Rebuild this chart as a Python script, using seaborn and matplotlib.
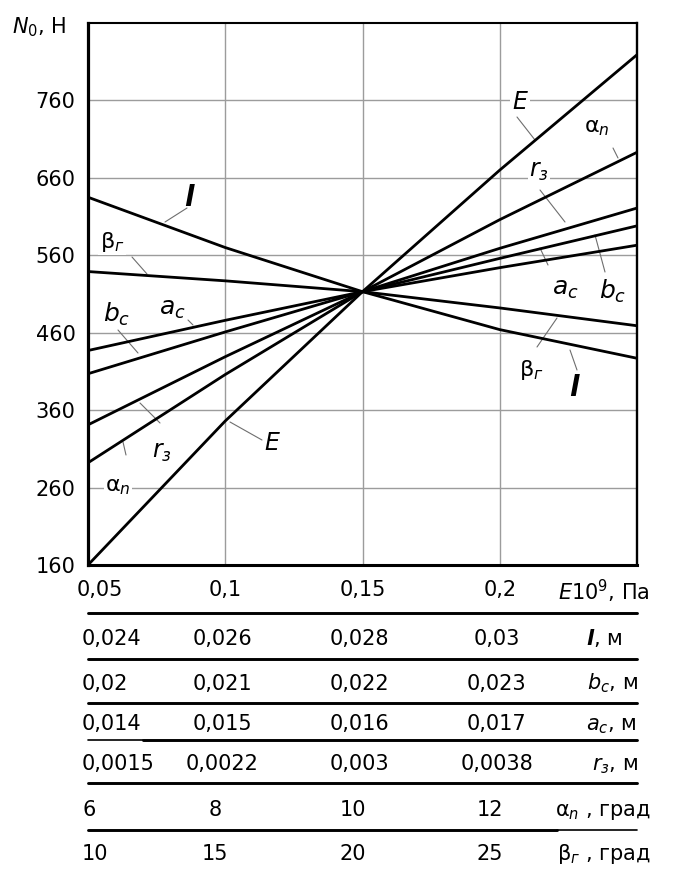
import numpy as np
import pandas as pd
import matplotlib
matplotlib.use("Agg")
import matplotlib.pyplot as plt
from matplotlib.transforms import ScaledTranslation
import seaborn as sns

# Elastic modulus grid, E*10^9 Pa
e_mod = [0.05, 0.10, 0.15, 0.20, 0.25]

# Force N0 (N) when one parameter runs over its range, the others fixed
n0_E = [160, 346, 513, 670, 819]
n0_alpha = [292, 406, 513, 606, 693]
n0_r3 = [341, 429, 513, 569, 621]
n0_bc = [407, 461, 513, 556, 598]
n0_ac = [437, 476, 513, 544, 573]
n0_beta = [539, 527, 513, 492, 469]
n0_l = [635, 570, 513, 464, 427]

y_ticks = [160, 260, 360, 460, 560, 660, 760]
e_tick_vals = [0.05, 0.10, 0.15, 0.20]
e_tick_labels = ["0,05", "0,1", "0,15", "0,2"]

# Parameter scales printed under the E axis
l_vals = ["0,024", "0,026", "0,028", "0,03"]
bc_vals = ["0,02", "0,021", "0,022", "0,023"]
ac_vals = ["0,014", "0,015", "0,016", "0,017"]
r3_vals = ["0,0015", "0,0022", "0,003", "0,0038"]
alpha_vals = ["6", "8", "10", "12"]
beta_vals = ["10", "15", "20", "25"]

sns.set_theme(style="white")
plt.rcParams["font.family"] = ["DejaVu Sans"]
plt.rcParams["mathtext.fontset"] = "dejavusans"
plt.rcParams["text.color"] = "black"

W, H = 678, 875
L, R, T, B = 88, 637, 23, 565
XMIN, XMAX, YMIN, YMAX = 0.05, 0.25, 160, 860


def to_data(xp, yp):
    """Figure pixel position (from top-left) -> data coordinates."""
    return (XMIN + (xp - L) / (R - L) * (XMAX - XMIN),
            YMIN + (B - yp) / (B - T) * (YMAX - YMIN))


def fx(xp):
    return xp / W


def fy(yp):
    return 1 - yp / H


fig = plt.figure(figsize=(W / 100, H / 100), dpi=100)
fig.patch.set_facecolor("white")
ax = fig.add_axes([L / W, 1 - B / H, (R - L) / W, (B - T) / H])

series = {"E": n0_E, "alpha": n0_alpha, "r3": n0_r3, "bc": n0_bc,
          "ac": n0_ac, "beta": n0_beta, "l": n0_l}
df = pd.concat([pd.DataFrame({"E": e_mod, "N0": v, "param": k})
                for k, v in series.items()], ignore_index=True)

sns.lineplot(data=df, x="E", y="N0", hue="param",
             palette={k: "black" for k in series}, legend=False,
             errorbar=None, linewidth=2.0, ax=ax, zorder=3)

ax.set_xlim(XMIN, XMAX)
ax.set_ylim(YMIN, YMAX)
ax.set_xlabel("")
ax.set_ylabel("")
ax.set_xticks(e_tick_vals)
ax.set_xticklabels(e_tick_labels)
ax.set_yticks(y_ticks)
ax.set_yticklabels([str(v) for v in y_ticks])
ax.tick_params(axis="both", length=0, labelsize=15, colors="black")
ax.tick_params(axis="x", pad=10.5)
ax.tick_params(axis="y", pad=9)
first = ax.get_xticklabels()[0]
first.set_horizontalalignment("left")
first.set_transform(first.get_transform() +
                    ScaledTranslation(-11 / 100, 0, fig.dpi_scale_trans))

ax.grid(True, color="#9c9c9c", linewidth=1.0)
ax.set_axisbelow(True)
for side, lw in (("left", 2.3), ("bottom", 2.2), ("top", 1.5), ("right", 1.7)):
    ax.spines[side].set_visible(True)
    ax.spines[side].set_color("black")
    ax.spines[side].set_linewidth(lw)

# Curve captions with their leader lines
captions = [
    (r"$\mathbfit{l}$", 190, 198, 20, False),
    (r"β$_{г}$", 112, 242, 16, True),
    (r"$a_c$", 172, 309, 18, False),
    (r"$b_c$", 117, 314, 18, False),
    (r"$r_з$", 162, 452, 17, False),
    (r"α$_n$", 118, 487, 16, True),
    (r"$E$", 272, 443, 17, False),
    (r"$E$", 520, 102, 17, True),
    (r"α$_n$", 597, 128, 16, False),
    (r"$r_з$", 539, 171, 17, True),
    (r"$a_c$", 565, 289, 18, False),
    (r"$b_c$", 613, 291, 18, False),
    (r"β$_{г}$", 531, 370, 16, False),
    (r"$\mathbfit{l}$", 575, 388, 20, False),
]
leaders = [
    ((187, 208), (165, 222)),
    ((132, 257), (147, 274)),
    ((188, 320), (193, 325)),
    ((118, 330), (138, 353)),
    ((160, 423), (140, 403)),
    ((126, 455), (123, 442)),
    ((262, 440), (230, 422)),
    ((517, 117), (535, 140)),
    ((613, 148), (618, 158)),
    ((540, 190), (565, 222)),
    ((548, 265), (540, 248)),
    ((605, 272), (595, 235)),
    ((537, 347), (557, 318)),
    ((577, 370), (570, 350)),
]
for (x1, y1), (x2, y2) in leaders:
    a = to_data(x1, y1)
    b = to_data(x2, y2)
    ax.plot([a[0], b[0]], [a[1], b[1]], color="#6e6e6e", lw=0.8, zorder=2)

for txt, xp, yp, size, boxed in captions:
    x, y = to_data(xp, yp)
    kw = {}
    if boxed:
        kw["bbox"] = dict(facecolor="white", edgecolor="none", pad=1.0)
    ax.text(x, y, txt, ha="center", va="center", fontsize=size,
            color="black", zorder=4, **kw)

# Axis captions
fig.text(fx(12), fy(33), r"$N_0$, Н", fontsize=15, va="baseline", ha="left")
fig.text(fx(558), fy(600), r"$E$10$^9$, Па", fontsize=15, va="baseline",
         ha="left")

# Parameter scale rows under the chart
def col_px(e):
    return L + (e - XMIN) / (XMAX - XMIN) * (R - L)


rows = [
    (l_vals, 645, r"$\mathbfit{l}$, м", 586, -3),
    (bc_vals, 689.5, r"$b_c$, м", 587, -3),
    (ac_vals, 730, r"$a_c$, м", 586, -3),
    (r3_vals, 770.5, r"$r_з$, м", 592, -3),
    (alpha_vals, 815.5, r"α$_n$ , град", 555, -10),
    (beta_vals, 860.5, r"β$_{г}$ , град", 557, -10),
]
for vals, base, label, lab_x, shift in rows:
    for i, (e, v) in enumerate(zip(e_tick_vals, vals)):
        if i == 0:
            fig.text(fx(col_px(e) - 6), fy(base), v, fontsize=15,
                     ha="left", va="baseline")
        else:
            fig.text(fx(col_px(e) + shift), fy(base), v, fontsize=15,
                     ha="center", va="baseline")
    fig.text(fx(lab_x), fy(base), label, fontsize=15, ha="left",
             va="baseline")

# Separator rules between the scale rows
rules = [
    (613, L, R, 2.1),
    (659, L, R, 2.1),
    (703, L, R, 2.1),
    (740, L, 143, 1.2),
    (740, 143, R, 2.1),
    (783, L, R, 2.1),
    (830, L, 557, 2.1),
    (830, 557, R, 1.2),
]
for yp, x0, x1, lw in rules:
    fig.add_artist(plt.Line2D([fx(x0), fx(x1)], [fy(yp), fy(yp)],
                              color="black", lw=lw,
                              transform=fig.transFigure))

fig.savefig("out.png", dpi=100, facecolor="white")
